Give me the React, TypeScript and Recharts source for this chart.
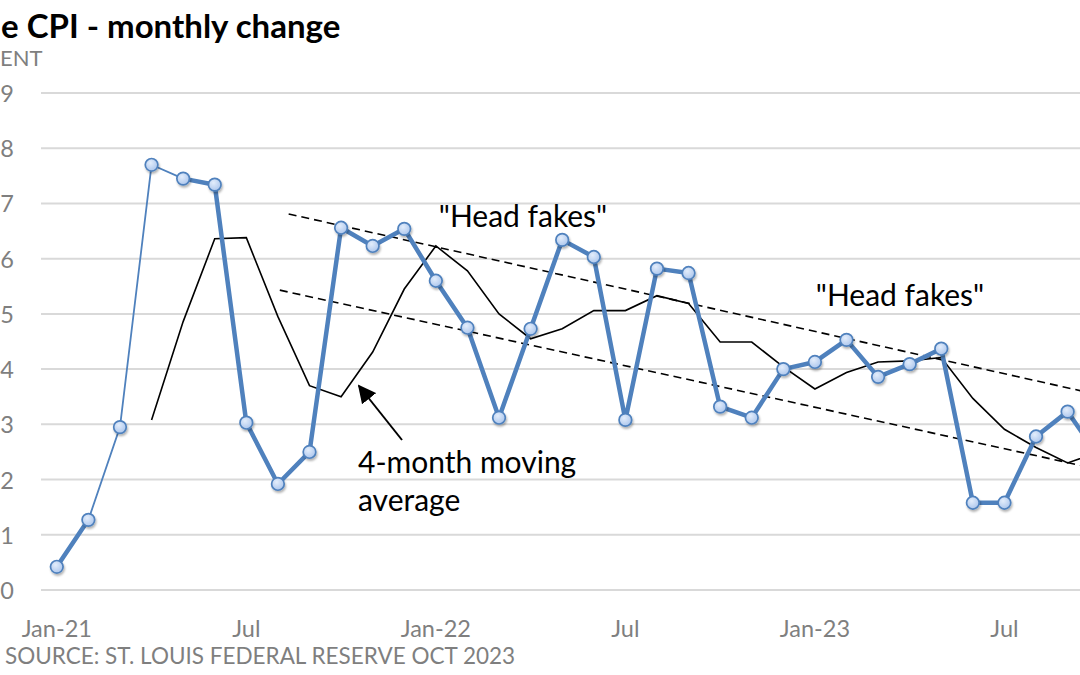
import React from "react";
import {
  LineChart,
  Line,
  XAxis,
  YAxis,
  CartesianGrid,
  ReferenceLine,
} from "recharts";

const MONTHS = [
  "Jan-21", "Feb-21", "Mar-21", "Apr-21", "May-21", "Jun-21",
  "Jul-21", "Aug-21", "Sep-21", "Oct-21", "Nov-21", "Dec-21",
  "Jan-22", "Feb-22", "Mar-22", "Apr-22", "May-22", "Jun-22",
  "Jul-22", "Aug-22", "Sep-22", "Oct-22", "Nov-22", "Dec-22",
  "Jan-23", "Feb-23", "Mar-23", "Apr-23", "May-23", "Jun-23",
  "Jul-23", "Aug-23", "Sep-23", "Oct-23",
];

// monthly change
const CPI_CHANGE = [
  0.42, 1.27, 2.95, 7.7, 7.45, 7.34,
  3.03, 1.92, 2.5, 6.56, 6.23, 6.54,
  5.6, 4.75, 3.12, 4.73, 6.34, 6.03,
  3.08, 5.82, 5.74, 3.32, 3.12, 4.0,
  4.13, 4.53, 3.86, 4.09, 4.37, 1.58,
  1.58, 2.78, 3.23, 2.4,
];

// 4-month moving average (thin black line)
const MOVING_AVG = [
  null, null, null, 3.08, 4.86, 6.36,
  6.38, 4.95, 3.7, 3.5, 4.31, 5.45,
  6.23, 5.78, 5.0, 4.55, 4.73, 5.06,
  5.06, 5.33, 5.19, 4.49, 4.49, 4.04,
  3.64, 3.94, 4.13, 4.15, 4.21, 3.47,
  2.91, 2.58, 2.3, 2.5,
];

// months drawn with the thin blue stroke (Feb-21 .. May-21)
const THIN_FROM = 1;
const THIN_TO = 4;

const X_TICKS = [0, 6, 12, 18, 24, 30];
const X_TICK_LABELS = ["Jan-21", "Jul", "Jan-22", "Jul", "Jan-23", "Jul"];
const Y_TICKS = [0, 1, 2, 3, 4, 5, 6, 7, 8, 9];

// "head fakes" channel: [month idx, value] start -> end
const UPPER_TREND = [
  [7.34, 6.81],
  [33.5, 3.47],
];
const LOWER_TREND = [
  [7.06, 5.43],
  [33.5, 2.12],
];

const FONT = "Lato, 'Open Sans', sans-serif";
const BLUE = "#4f81bd";
const GREY_TEXT = "#7f7f7f";

const data = MONTHS.map((m, i) => ({
  i,
  month: m,
  thick: i > THIN_FROM && i < THIN_TO ? null : CPI_CHANGE[i],
  thin: i >= THIN_FROM && i <= THIN_TO ? CPI_CHANGE[i] : null,
  all: CPI_CHANGE[i],
  avg: MOVING_AVG[i],
}));

const BlueDot = (props: any) => {
  const { cx, cy, index } = props;
  if (cx == null || cy == null) return <g key={index} />;
  return (
    <circle
      key={index}
      cx={cx}
      cy={cy}
      r={6.3}
      fill="url(#dotFill)"
      stroke={BLUE}
      strokeWidth={1.7}
      filter="url(#softShadow)"
    />
  );
};

const XTick = (props: any) => {
  const { x, payload, index } = props;
  return (
    <text
      x={x}
      y={628}
      textAnchor="middle"
      dominantBaseline="central"
      fill={GREY_TEXT}
      fontSize={23.5}
      fontFamily={FONT}
    >
      {X_TICK_LABELS[index] ?? payload.value}
    </text>
  );
};

const YTick = (props: any) => {
  const { y, payload } = props;
  return (
    <text
      x={14}
      y={y}
      textAnchor="end"
      dominantBaseline="central"
      fill={GREY_TEXT}
      fontSize={23.5}
      fontFamily={FONT}
    >
      {payload.value}
    </text>
  );
};

export default function App() {
  return (
    <div
      style={{
        position: "absolute",
        left: 0,
        top: 0,
        width: 1080,
        height: 675,
        overflow: "hidden",
        background: "#fff",
        fontFamily: FONT,
      }}
    >
      <LineChart
        width={1120}
        height={675}
        data={data}
        margin={{ top: 93, right: 5, bottom: 40, left: 0 }}
      >
        <defs>
          <radialGradient id="dotFill" cx="40%" cy="35%" r="70%">
            <stop offset="0%" stopColor="#e3edfb" />
            <stop offset="100%" stopColor="#a9c4ec" />
          </radialGradient>
          <filter id="softShadow" x="-50%" y="-50%" width="200%" height="200%">
            <feDropShadow dx="1" dy="2" stdDeviation="1.2" floodColor="#000" floodOpacity="0.3" />
          </filter>
          <marker
            id="arrowHead"
            viewBox="0 0 10 10"
            refX="9"
            refY="5"
            markerWidth="9"
            markerHeight="9"
            orient="auto"
          >
            <path d="M0,0 L10,5 L0,10 z" fill="#000" />
          </marker>
        </defs>

        <CartesianGrid vertical={false} stroke="#d9d9d9" strokeWidth={2} />
        <XAxis
          dataKey="i"
          type="number"
          domain={[-0.5, MONTHS.length - 0.5]}
          ticks={X_TICKS}
          axisLine={false}
          tickLine={false}
          height={45}
          tick={<XTick />}
          interval={0}
        />
        <YAxis
          domain={[0, 9]}
          ticks={Y_TICKS}
          axisLine={false}
          tickLine={false}
          width={41}
          tick={<YTick />}
          interval={0}
        />

        <ReferenceLine
          segment={[
            { x: UPPER_TREND[0][0], y: UPPER_TREND[0][1] },
            { x: UPPER_TREND[1][0], y: UPPER_TREND[1][1] },
          ]}
          stroke="#000"
          strokeWidth={1.6}
          strokeDasharray="8 5"
        />
        <ReferenceLine
          segment={[
            { x: LOWER_TREND[0][0], y: LOWER_TREND[0][1] },
            { x: LOWER_TREND[1][0], y: LOWER_TREND[1][1] },
          ]}
          stroke="#000"
          strokeWidth={1.6}
          strokeDasharray="8 5"
        />

        <Line
          dataKey="avg"
          stroke="#000"
          strokeWidth={1.6}
          dot={false}
          activeDot={false}
          type="linear"
          isAnimationActive={false}
        />
        <Line
          dataKey="thin"
          stroke={BLUE}
          strokeWidth={1.8}
          dot={false}
          activeDot={false}
          type="linear"
          isAnimationActive={false}
        />
        <Line
          dataKey="thick"
          stroke={BLUE}
          strokeWidth={4.5}
          dot={false}
          activeDot={false}
          type="linear"
          strokeLinejoin="round"
          isAnimationActive={false}
        />
        <Line
          dataKey="all"
          stroke="none"
          dot={<BlueDot />}
          activeDot={false}
          type="linear"
          isAnimationActive={false}
        />

        {/* annotation arrow */}
        <line
          x1={402}
          y1={440}
          x2={359}
          y2={386}
          stroke="#000"
          strokeWidth={2}
          markerEnd="url(#arrowHead)"
        />

        <text x={523} y={215} textAnchor="middle" dominantBaseline="central" fontSize={30} fontFamily={FONT} fill="#000">
          "Head fakes"
        </text>
        <text x={900} y={294} textAnchor="middle" dominantBaseline="central" fontSize={30} fontFamily={FONT} fill="#000">
          "Head fakes"
        </text>
        <text x={358} y={461} dominantBaseline="central" fontSize={30} fontFamily={FONT} fill="#000">
          4-month moving
        </text>
        <text x={358} y={499} dominantBaseline="central" fontSize={30} fontFamily={FONT} fill="#000">
          average
        </text>

        <text x={1} y={38} fontSize={33} fontWeight={700} fontFamily={FONT} fill="#000">
          e CPI - monthly change
        </text>
        <text x={0} y={57} dominantBaseline="central" fontSize={22} fontFamily={FONT} fill={GREY_TEXT}>
          ENT
        </text>
        <text x={5} y={655} dominantBaseline="central" fontSize={22.5} fontFamily={FONT} fill={GREY_TEXT}>
          SOURCE: ST. LOUIS FEDERAL RESERVE OCT 2023
        </text>
      </LineChart>
    </div>
  );
}
